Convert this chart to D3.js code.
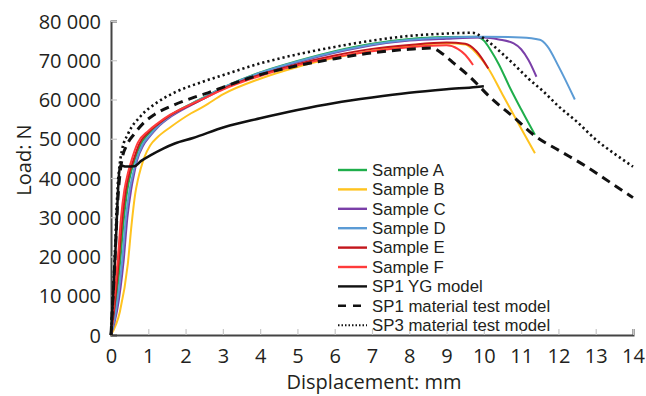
<!DOCTYPE html>
<html>
<head>
<meta charset="utf-8">
<script src="https://cdn.jsdelivr.net/npm/d3@7"></script>
<style>
  html, body { margin: 0; padding: 0; background: #fff; }
  svg { display: block; }
  text { font-family: "Open Sans", "Noto Sans", sans-serif; fill: #231f20; }
  .legend text { font-family: "Liberation Sans", Arial, sans-serif; }
</style>
</head>
<body>
<svg id="chart" width="646" height="396"></svg>
<script>
// ---- data: [displacement (mm), load (N)] ----
const sampleA = [[0,0],[0.1,6000],[0.25,19000],[0.35,30000],[0.44,37000],[0.54,41500],[0.63,44500],[0.8,48600],[1,51200],[1.26,53500],[1.6,56000],[2.15,58900],[2.5,60600],[3,63000],[4,66900],[5,69800],[6,72300],[7,74200],[8,75400],[9,75900],[9.8,76000],[10,75000],[10.2,72300],[10.4,69000],[10.7,63000],[11,57500],[11.37,51000]];
const sampleB = [[0,0],[0.24,6000],[0.45,18000],[0.55,28000],[0.65,36000],[0.72,39500],[0.8,42500],[0.9,45400],[1.05,48300],[1.26,50500],[1.6,53000],[2.15,56500],[2.5,58300],[3,61300],[4,65300],[5,68300],[6,70600],[7,72400],[8,73600],[9,74300],[9.5,74000],[9.8,71800],[10.12,67900],[10.5,61300],[11,52600],[11.37,46300]];
const sampleC = [[0,0],[0.16,6000],[0.34,19000],[0.44,30000],[0.54,37000],[0.63,41500],[0.7,44500],[0.86,48200],[1.05,50700],[1.26,53000],[1.6,55600],[2.15,58600],[2.5,60300],[3,62800],[4,66600],[5,69500],[6,71900],[7,73800],[8,75000],[9,75500],[10,75800],[10.4,75300],[10.8,74300],[11,72800],[11.2,70000],[11.41,65800]];
const sampleD = [[0,0],[0.13,6000],[0.3,19000],[0.4,30000],[0.5,37000],[0.6,41500],[0.68,44500],[0.84,48400],[1.05,51000],[1.26,53200],[1.6,55800],[2.15,58800],[2.5,60500],[3,63000],[4,66800],[5,69700],[6,72100],[7,74000],[8,75200],[9,75800],[10,76000],[11,75800],[11.5,75200],[11.7,73600],[12,68500],[12.44,60000]];
const sampleE = [[0,0],[0.08,6000],[0.21,19000],[0.31,30000],[0.4,37000],[0.5,41500],[0.6,44500],[0.76,48700],[1,51600],[1.26,53700],[1.6,56000],[2.15,58700],[2.5,60300],[3,62700],[4,66300],[5,69000],[6,71200],[7,72900],[8,73900],[9,74500],[9.5,74200],[9.8,72300],[10.12,67900]];
const sampleF = [[0,0],[0.06,6000],[0.18,19000],[0.27,30000],[0.36,37000],[0.46,41500],[0.55,44500],[0.72,49000],[1,52000],[1.26,54000],[1.6,56200],[2.15,58800],[2.5,60300],[3,62500],[4,66000],[5,68700],[6,70800],[7,72300],[8,73300],[9,73800],[9.3,72900],[9.5,71400],[9.71,68800]];
const sp1YG = [[0,0],[0.12,21500],[0.22,41500],[0.26,43200],[0.4,42900],[0.63,43000],[0.8,44300],[1.08,45900],[1.4,47500],[1.71,48800],[2.2,50200],[3.05,53000],[4,55200],[5,57300],[6,59100],[7,60500],[8,61700],[9,62600],[9.8,63200],[10,63400]];
const sp1Mat = [[0,0],[0.1,18000],[0.18,34000],[0.24,41000],[0.3,45000],[0.42,48300],[0.63,51300],[0.85,53800],[1.17,56200],[1.71,58700],[2.15,60300],[2.6,61700],[3.05,63300],[4,66300],[5,68600],[6,70400],[7,71900],[8,72800],[8.6,73100],[8.9,71600],[9.2,69200],[9.6,66000],[10.2,60300],[10.8,55500],[11.4,50500],[12,47100],[12.75,42900],[13.4,38800],[14,35000]];
const sp3Mat = [[0,0],[0.1,20000],[0.18,38000],[0.24,44000],[0.3,47300],[0.46,51300],[0.8,55800],[1.26,59400],[1.71,61800],[2.42,64400],[3,66200],[4,69200],[5,71500],[6,73400],[7,75000],[8,76200],[9,76800],[9.7,77000],[10,75600],[10.4,72500],[10.8,69000],[11.2,65300],[11.6,62000],[12,58300],[12.5,54300],[13,49800],[13.5,46200],[14,42900]];

const seriesNames = ["Sample A","Sample B","Sample C","Sample D","Sample E","Sample F","SP1 YG model","SP1 material test model","SP3 material test model"];
const xTicks = [0,1,2,3,4,5,6,7,8,9,10,11,12,13,14];
const yTicks = [0,10000,20000,30000,40000,50000,60000,70000,80000];
const yTickLabels = ["0","10 000","20 000","30 000","40 000","50 000","60 000","70 000","80 000"];
const xTitle = "Displacement: mm";
const yTitle = "Load: N";

// ---- styles ----
const styles = [
  {data: sampleA, color: "#1fae4b", width: 2, dash: null},
  {data: sampleB, color: "#ffc31f", width: 2, dash: null},
  {data: sampleC, color: "#7a3fa8", width: 2, dash: null},
  {data: sampleD, color: "#5b9bd5", width: 2, dash: null},
  {data: sampleE, color: "#c3161c", width: 2, dash: null},
  {data: sampleF, color: "#ff3b3b", width: 2, dash: null},
  {data: sp1YG, color: "#111", width: 2.5, dash: null},
  {data: sp1Mat, color: "#111", width: 3, dash: "9,6"},
  {data: sp3Mat, color: "#111", width: 2.6, dash: "2.2,3"}
];

const svg = d3.select("#chart");
const x = d3.scaleLinear().domain([0,14]).range([111,633]);
const y = d3.scaleLinear().domain([0,80000]).range([335,21]);

// axes
const gx = svg.append("g").attr("transform","translate(0,335)")
  .call(d3.axisBottom(x).tickValues(xTicks).tickFormat(d3.format("d")).tickSize(-6).tickPadding(14));
const gy = svg.append("g").attr("transform","translate(111,0)")
  .call(d3.axisLeft(y).tickValues(yTicks).tickFormat((d,i)=>yTickLabels[i]).tickSize(-6).tickPadding(10));
[gx,gy].forEach(g=>{
  g.select(".domain").attr("stroke","#444").attr("stroke-width",2);
  g.selectAll(".tick line").attr("stroke","#c8c8c8").attr("stroke-width",1.2);
  g.selectAll(".tick text").style("font-size","20px").attr("fill","#231f20");
});
gx.selectAll(".tick line").filter(d=>d===0).remove();
gy.selectAll(".tick line").filter(d=>d===0).remove();
gy.selectAll(".tick text").attr("dy","0.36em");

// titles
svg.append("text").attr("x",374).attr("y",389).attr("text-anchor","middle")
  .style("font-size","20px").text(xTitle);
svg.append("text").attr("transform","translate(31,160) rotate(-90)").attr("text-anchor","middle")
  .style("font-size","20px").text(yTitle);

// lines
const line = d3.line().x(d=>x(d[0])).y(d=>y(d[1])).curve(d3.curveMonotoneX);
styles.forEach(s=>{
  svg.append("path").datum(s.data).attr("d",line)
    .attr("fill","none").attr("stroke",s.color).attr("stroke-width",s.width)
    .attr("stroke-dasharray",s.dash).attr("stroke-linejoin","round");
});

// legend
const lg = svg.append("g").attr("class","legend");
seriesNames.forEach((name,i)=>{
  const yy = 170 + i*19.4;
  const s = styles[i];
  lg.append("line").attr("x1",338).attr("x2",367).attr("y1",yy).attr("y2",yy)
    .attr("stroke",s.color).attr("stroke-width",s.dash ? (i===8?2:2.6) : 2.4)
    .attr("stroke-dasharray", i===7 ? "8,7" : (i===8 ? "1.5,2" : null));
  lg.append("text").attr("x",372).attr("y",yy).attr("dy","0.35em")
    .style("font-size","16.8px").text(name);
});
</script>
</body>
</html>
